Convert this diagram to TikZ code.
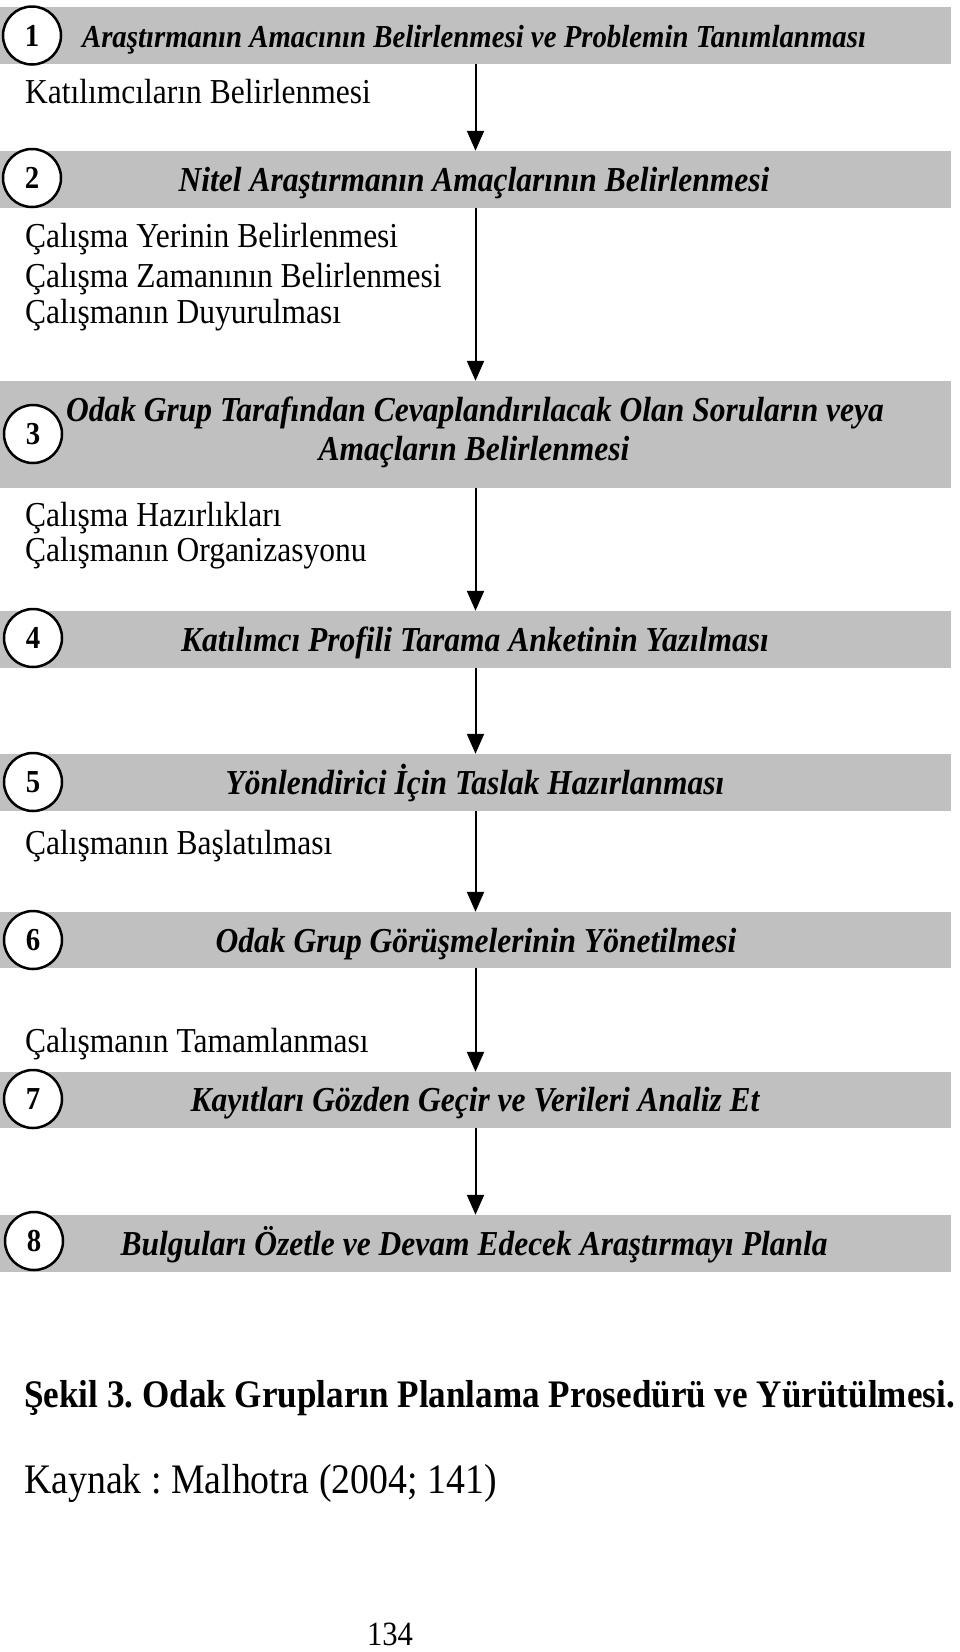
\documentclass[tikz,border=0pt]{standalone}
\usepackage{fontspec}
\setmainfont[FakeStretch=0.9]{Liberation Serif}
\usetikzlibrary{arrows.meta}
\definecolor{bandgray}{RGB}{192,192,192}
\frenchspacing
\tikzset{
 band/.style={fill=bandgray, draw=none, minimum width=951pt, inner sep=0pt},
 num/.style={circle, draw, line width=2.5pt, fill=white, minimum size=58pt, inner sep=0pt, font=\fontsize{32}{32}\selectfont\bfseries},
 btext/.style={anchor=base, inner sep=0pt, font=\fontsize{35}{35}\selectfont\bfseries\itshape},
 ltext/.style={anchor=base west, inner sep=0pt, font=\fontsize{35}{35}\selectfont},
 arr/.style={line width=2pt, -{Triangle[length=20pt,width=17pt]}},
}
\begin{document}
\begin{tikzpicture}[x=1pt,y=-1pt]
\useasboundingbox[fill=white] (0,0) rectangle (960,1652);
% bands
\node[band, minimum height=57pt] (b1) at (475.5,35.5) {};
\node[band, minimum height=57pt] (b2) at (475.5,179.5) {};
\node[band, minimum height=107pt] (b3) at (475.5,434.5) {};
\node[band, minimum height=57pt] (b4) at (475.5,639.5) {};
\node[band, minimum height=57pt] (b5) at (475.5,782.5) {};
\node[band, minimum height=56pt] (b6) at (475.5,940) {};
\node[band, minimum height=56pt] (b7) at (475.5,1100) {};
\node[band, minimum height=57pt] (b8) at (475.5,1243.5) {};
% arrows
\draw[arr] (b1.south) -- (b2.north);
\draw[arr] (b2.south) -- (b3.north);
\draw[arr] (b3.south) -- (b4.north);
\draw[arr] (b4.south) -- (b5.north);
\draw[arr] (b5.south) -- (b6.north);
\draw[arr] (b6.south) -- (b7.north);
\draw[arr] (b7.south) -- (b8.north);
% band texts
\node[btext, font=\fontsize{32}{32}\selectfont\bfseries\itshape] (t1) at (474,47) {Araştırmanın Amacının Belirlenmesi ve Problemin Tanımlanması};
\node[btext] (t2) at (474,191) {Nitel Araştırmanın Amaçlarının Belirlenmesi};
\node[btext] (t3a) at (475,421) {Odak Grup Tarafından Cevaplandırılacak Olan Soruların veya};
\node[btext] (t3b) at (474,460) {Amaçların Belirlenmesi};
\node[btext] (t4) at (475,651) {Katılımcı Profili Tarama Anketinin Yazılması};
\node[btext] (t5) at (475,794) {Yönlendirici İçin Taslak Hazırlanması};
\node[btext] (t6) at (476,952) {Odak Grup Görüşmelerinin Yönetilmesi};
\node[btext] (t7) at (475,1111) {Kayıtları Gözden Geçir ve Verileri Analiz Et};
\node[btext] (t8) at (474,1255) {Bulguları Özetle ve Devam Edecek Araştırmayı Planla};
% number circles
\node[num] (n1) at (32,35.5) {1};
\node[num] (n2) at (32,178) {2};
\node[num] (n3) at (33,434) {3};
\node[num] (n4) at (33,638) {4};
\node[num] (n5) at (33,782) {5};
\node[num] (n6) at (33,940) {6};
\node[num] (n7) at (33,1099) {7};
\node[num] (n8) at (34,1241) {8};
% left texts
\node[ltext] (l1) at (25,103) {Katılımcıların Belirlenmesi};
\node[ltext] (l2) at (25,247) {Çalışma Yerinin Belirlenmesi};
\node[ltext] (l3) at (25,287) {Çalışma Zamanının Belirlenmesi};
\node[ltext] (l4) at (25,323) {Çalışmanın Duyurulması};
\node[ltext] (l5) at (25,526) {Çalışma Hazırlıkları};
\node[ltext] (l6) at (25,561) {Çalışmanın Organizasyonu};
\node[ltext] (l7) at (25,854) {Çalışmanın Başlatılması};
\node[ltext] (l8) at (25,1052) {Çalışmanın Tamamlanması};
% caption
\node[ltext, font=\fontsize{39}{39}\selectfont\bfseries] (cap) at (24,1407) {Şekil 3. Odak Grupların Planlama Prosedürü ve Yürütülmesi.};
\node[ltext, font=\fontsize{42}{42}\selectfont] (src) at (24,1493) {Kaynak : Malhotra (2004; 141)};
\node[anchor=base, inner sep=0pt, font=\fontsize{34}{34}\selectfont] (pg) at (390,1645) {134};
\end{tikzpicture}
\end{document}
